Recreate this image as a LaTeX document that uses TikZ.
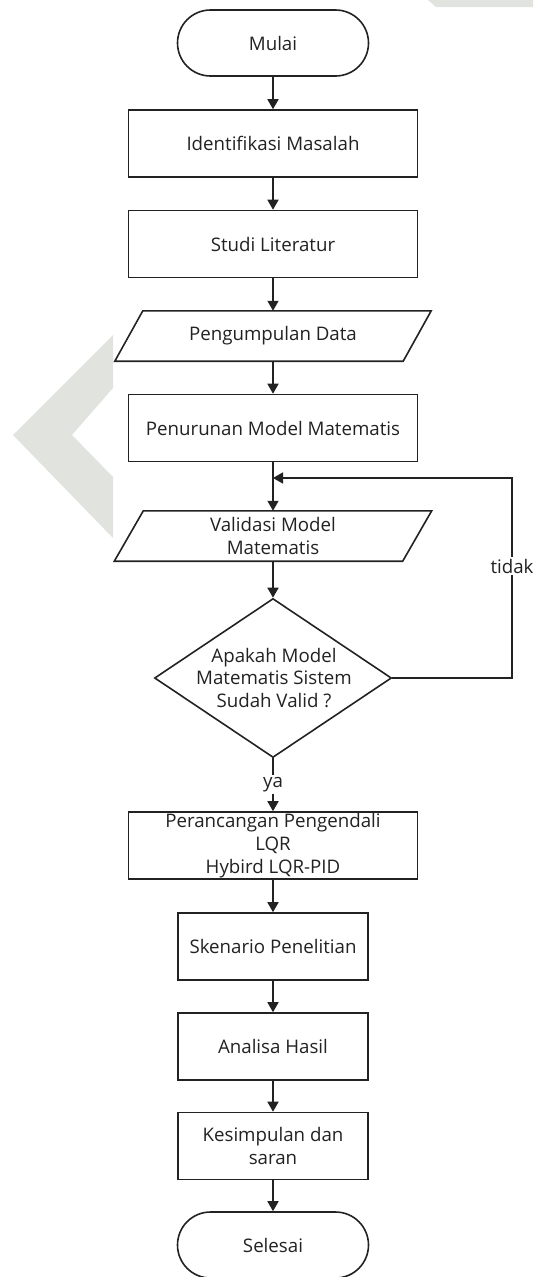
\documentclass[tikz,border=0pt]{standalone}
\usepackage{fontspec}
\setmainfont{Open Sans}
\usetikzlibrary{arrows.meta,shapes.geometric}
\definecolor{ink}{HTML}{222222}
\definecolor{wm}{HTML}{E1E3DF}
\begin{document}
\begin{tikzpicture}[x=1pt,y=-1pt,
  every node/.style={font=\fontsize{18.7}{22.8}\selectfont, text=ink},
  proc/.style={draw=ink, line width=1.6pt, minimum width=289pt, minimum height=67pt, inner sep=0pt, align=center},
  procs/.style={proc, minimum width=190pt},
  term/.style={proc, minimum width=191pt, minimum height=66pt, rounded corners=33pt},
  io/.style={minimum width=288pt, minimum height=50pt, inner sep=0pt, align=center},
  iobox/.style={draw=ink, line width=1.6pt},
  decision/.style={diamond, draw=ink, line width=1.6pt, minimum width=237pt, minimum height=159pt, inner sep=0pt},
  arr/.style={draw=ink, line width=1.6pt, -{Triangle[width=11pt,length=10pt]}},
  lbl/.style={fill=white, inner sep=2pt}]
\useasboundingbox (0,0) rectangle (533,1277);
% watermark
\fill[wm] (113,335) -- (13,435) -- (113,538) -- (113,477) -- (72,435) -- (113,388) -- cycle;
\fill[wm] (428,0) -- (533,0) -- (533,7) -- (436,7) -- cycle;
% nodes
\node[term] (start) at (273,43) {Mulai};
\node[proc] (s1) at (273,143.5) {Identifikasi Masalah};
\node[proc] (s2) at (273,244) {Studi Literatur};
\node[io] (s3) at (273,336) {Pengumpulan Data};
\draw[iobox] ([xshift=14pt]s3.north west) -- ([xshift=14pt]s3.north east) -- ([xshift=-14pt]s3.south east) -- ([xshift=-14pt]s3.south west) -- cycle;
\node[proc] (s4) at (273,428) {Penurunan Model Matematis};
\coordinate (j) at (273,478);
\node[io] (s5) at (273,536) {Validasi Model\\Matematis};
\draw[iobox] ([xshift=14.5pt]s5.north west) -- ([xshift=14.5pt]s5.north east) -- ([xshift=-14.5pt]s5.south east) -- ([xshift=-14.5pt]s5.south west) -- cycle;
\node[decision] (d) at (273,678) {};
\node[align=center, inner sep=0pt] (dt) at (274,678) {Apakah Model\\Matematis Sistem\\Sudah Valid ?};
\coordinate (loopR) at (512,478);
\node[proc] (s6) at (273,845.5) {Perancangan Pengendali\\LQR\\Hybird LQR-PID};
\node[procs] (s7) at (273,946.5) {Skenario Penelitian};
\node[procs] (s8) at (273,1046.5) {Analisa Hasil};
\node[procs] (s9) at (273,1146) {Kesimpulan dan\\saran};
\node[term] (end) at (273,1245) {Selesai};
% connectors
\draw[arr] (start) -- (s1);
\draw[arr] (s1) -- (s2);
\draw[arr] (s2) -- (s3);
\draw[arr] (s3) -- (s4);
\draw[arr] (s4) -- (s5);
\draw[arr] (s5) -- (d.north);
\draw[arr] (d.east) -| node[pos=0.78, lbl]{tidak} (loopR) -- (j);
\draw[arr] (d.south) -- node[lbl]{ya} (s6.north);
\draw[arr] (s6) -- (s7);
\draw[arr] (s7) -- (s8);
\draw[arr] (s8) -- (s9);
\draw[arr] (s9) -- (end);
\end{tikzpicture}
\end{document}
